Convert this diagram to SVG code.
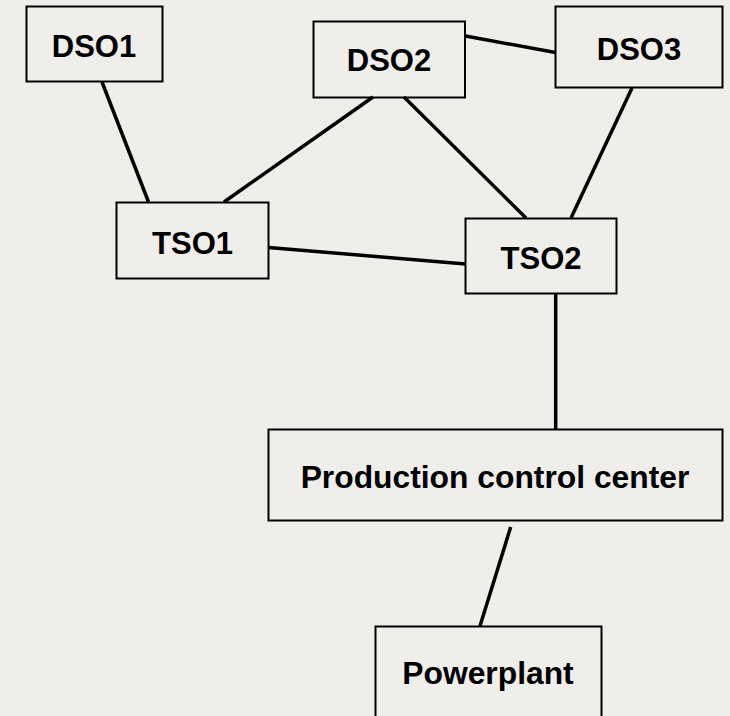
<svg xmlns="http://www.w3.org/2000/svg" width="730" height="716" viewBox="0 0 730 716">
<style>
.box{fill:none;stroke:#000;stroke-width:2}
.lbl{font-family:"Liberation Sans",Arial,sans-serif;font-weight:bold;font-size:31px;fill:#000;text-anchor:middle}
.big{font-size:31.8px}
.con{stroke:#000;stroke-width:3.5;fill:none}
</style>
<rect x="0" y="0" width="730" height="716" fill="#efeeea"/>
<g id="connectors">
<line class="con" x1="102" y1="82" x2="148.5" y2="202"/>
<line class="con" x1="373" y1="97" x2="224" y2="202"/>
<line class="con" x1="404" y1="97" x2="526" y2="218"/>
<line class="con" x1="465.5" y1="36" x2="555.5" y2="52.5"/>
<line class="con" x1="632" y1="88" x2="571" y2="218"/>
<line class="con" x1="268.5" y1="247.5" x2="465.5" y2="264"/>
<line class="con" x1="555.7" y1="294" x2="555.7" y2="430"/>
<line class="con" x1="510.7" y1="527" x2="480" y2="626"/>
</g>
<g id="DSO1"><rect class="box" x="26.5" y="6.5" width="136" height="75"/><text class="lbl" x="94" y="56.5">DSO1</text></g>
<g id="DSO2"><rect class="box" x="313.5" y="21.5" width="151.5" height="76"/><text class="lbl" x="389" y="71">DSO2</text></g>
<g id="DSO3"><rect class="box" x="555.5" y="6.5" width="167" height="81"/><text class="lbl" x="639" y="60">DSO3</text></g>
<g id="TSO1"><rect class="box" x="116.5" y="202.5" width="152" height="76"/><text class="lbl" x="192.5" y="254">TSO1</text></g>
<g id="TSO2"><rect class="box" x="465.5" y="218.5" width="151" height="75"/><text class="lbl" x="541" y="268.5">TSO2</text></g>
<g id="PCC"><rect class="box" x="268.5" y="429.5" width="454" height="91"/><text class="lbl big" x="495" y="487.5">Production control center</text></g>
<g id="Powerplant"><rect class="box" x="375.5" y="626.5" width="226" height="100"/><text class="lbl big" x="488" y="684">Powerplant</text></g>
</svg>
